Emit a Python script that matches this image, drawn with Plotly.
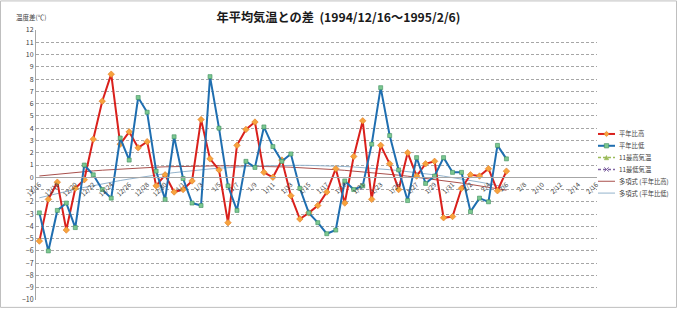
import numpy as np
import pandas as pd
import plotly.graph_objects as go

# ---- data ----
dates = pd.date_range("1994-12-16", "1995-02-06", freq="D")
high_diff = [-5.2, -1.8, -0.4, -4.3, -0.9, -0.2, 3.1, 6.2, 8.4, 2.7, 3.7, 2.4, 2.9, -0.7, 0.2, -1.2,
             -1.0, -0.3, 4.7, 1.5, 0.6, -3.7, 2.6, 3.9, 4.5, 0.4, 0.0, 1.4, -1.5, -3.4, -2.9, -2.3,
             -1.2, 0.7, -2.1, 1.7, 4.6, -1.8, 2.6, 1.1, -1.0, 2.0, 0.1, 1.1, 1.3, -3.3, -3.2,
             -0.9, 0.2, 0.1, 0.7, -1.1, 0.5]
low_diff = [-2.9, -6.0, -2.7, -2.1, -4.1, 1.0, 0.2, -1.0, -1.7, 3.2, 1.4, 6.5, 5.3, 0.5, -1.8, 3.3,
            -0.1, -2.1, -2.3, 8.2, 4.0, -0.7, -2.7, 1.3, 0.8, 4.1, 2.5, 1.3, 1.9, -0.9, -2.9, -3.7,
            -4.6, -4.3, -0.3, -1.0, -0.7, 2.7, 7.3, 3.4, 0.6, -1.9, 1.6, -0.5, 0.1, 1.6, 0.4,
            0.4, -2.8, -1.7, -2.0, 2.6, 1.5]
max11 = [None] * len(dates)
min11 = [None] * len(dates)
series_names = ["平年比高", "平年比低", "11最高気温", "11最低気温", "多項式 (平年比高)", "多項式 (平年比低)"]
title_text = "年平均気温との差  (1994/12/16～1995/2/6)"
y_title = "温度差(℃)"

# polynomial trendlines (order 2), like Excel
idx = np.arange(len(dates))
trend_high = np.polyval(np.polyfit(idx, high_diff, 2), idx)
trend_low = np.polyval(np.polyfit(idx, low_diff, 2), idx)

# ---- styles ----
FONT = "Noto Sans CJK JP"
C_HIGH, C_HIGH_M, C_HIGH_ML = "#D9201C", "#F7A33E", "#E07B20"
C_LOW, C_LOW_M, C_LOW_ML = "#1F6EB0", "#7CC890", "#3E8E5E"
C_MAX11, C_MIN11 = "#9BBB59", "#8064A2"
C_TH, C_TL = "#A9504C", "#93B3CC"

fig = go.Figure()
fig.add_trace(go.Scatter(x=dates, y=trend_high, mode="lines", name=series_names[4],
                         line=dict(color=C_TH, width=1)))
fig.add_trace(go.Scatter(x=dates, y=trend_low, mode="lines", name=series_names[5],
                         line=dict(color=C_TL, width=1)))
fig.add_trace(go.Scatter(x=dates, y=high_diff, mode="lines+markers", name=series_names[0],
                         line=dict(color=C_HIGH, width=2),
                         marker=dict(symbol="diamond", size=5, color=C_HIGH_M,
                                     line=dict(color=C_HIGH_ML, width=0.6))))
fig.add_trace(go.Scatter(x=dates, y=low_diff, mode="lines+markers", name=series_names[1],
                         line=dict(color=C_LOW, width=2),
                         marker=dict(symbol="square", size=4, color=C_LOW_M,
                                     line=dict(color=C_LOW_ML, width=0.6))))
fig.add_trace(go.Scatter(x=dates, y=max11, mode="lines+markers", name=series_names[2],
                         line=dict(color=C_MAX11, width=1.5, dash="dash"),
                         marker=dict(symbol="triangle-up", size=4, color=C_MAX11)))
fig.add_trace(go.Scatter(x=dates, y=min11, mode="lines+markers", name=series_names[3],
                         line=dict(color=C_MIN11, width=1.5, dash="dash"),
                         marker=dict(symbol="x-thin", size=4, color=C_MIN11,
                                     line=dict(color=C_MIN11, width=1))))

L, R, T, B = 36, 80, 30, 8
W, H = 677, 312
pw, ph = W - L - R, H - T - B


def px(xp):
    return (xp - L) / pw


def py(yp):
    return 1 - (yp - T) / ph


fig.update_layout(
    width=W, height=H,
    margin=dict(l=L, r=R, t=T, b=B),
    paper_bgcolor="white", plot_bgcolor="white",
    font=dict(family=FONT, color="#404040"),
    title=dict(text=title_text, x=0.5, xref="container", xanchor="center",
               y=1 - 18 / H, yref="container", yanchor="middle",
               font=dict(size=12.2, family=FONT, color="#1a1a1a", weight="bold")),
    showlegend=False,
    xaxis=dict(type="date",
               range=["1994-12-15 15:00", "1995-02-16 02:00"],
               tick0="1994-12-16", dtick=2 * 86400000, tickformat="%-m/%-d",
               tickangle=-45, tickfont=dict(size=6.5, color="#404040"),
               anchor="free", position=10 / 22,
               showline=True, linecolor="#A6A6A6", linewidth=1,
               showgrid=False, zeroline=False, ticks=""),
    yaxis=dict(range=[-10, 12], dtick=1, tick0=0,
               tickfont=dict(size=7, color="#404040"),
               showgrid=True, gridcolor="#A6A6A6", gridwidth=0.6, griddash="3px,2px",
               showline=True, linecolor="#A6A6A6", linewidth=1,
               zeroline=False, ticks=""),
)

fig.add_annotation(text=y_title, xref="paper", yref="paper",
                   x=px(14), y=py(17), xanchor="left", yanchor="middle",
                   showarrow=False, font=dict(size=6.5, family=FONT, color="#404040"))

# outer chart border
fig.add_shape(type="rect", xref="paper", yref="paper",
              x0=px(0.5), x1=px(W - 0.5), y0=py(H - 0.5), y1=py(0.5),
              line=dict(color="#BFBFBF", width=1), layer="below")

# ---- compact legend (Excel style) ----
leg_x0, leg_x1, leg_text_x = 598, 615, 617
leg_y0, leg_dy = 135.5, 12
legend_items = [
    (series_names[0], C_HIGH, "solid", 2, "diamond", C_HIGH_M, C_HIGH_ML),
    (series_names[1], C_LOW, "solid", 2, "square", C_LOW_M, C_LOW_ML),
    (series_names[2], C_MAX11, "dash", 1.5, "triangle", C_MAX11, C_MAX11),
    (series_names[3], C_MIN11, "dash", 1.5, "x", C_MIN11, C_MIN11),
    (series_names[4], C_TH, "solid", 1, None, None, None),
    (series_names[5], C_TL, "solid", 1, None, None, None),
]
for i, (nm, col, dash, wd, sym, mfill, mline) in enumerate(legend_items):
    yc = leg_y0 + i * leg_dy
    fig.add_shape(type="line", xref="paper", yref="paper",
                  x0=px(leg_x0), x1=px(leg_x1), y0=py(yc), y1=py(yc),
                  line=dict(color=col, width=wd, dash="3px,2px" if dash == "dash" else "solid"))
    cx = (leg_x0 + leg_x1) / 2
    s = 2.2
    if sym == "diamond":
        path = (f"M {px(cx)} {py(yc - s - 0.5)} L {px(cx + s + 0.5)} {py(yc)} "
                f"L {px(cx)} {py(yc + s + 0.5)} L {px(cx - s - 0.5)} {py(yc)} Z")
        fig.add_shape(type="path", xref="paper", yref="paper", path=path,
                      fillcolor=mfill, line=dict(color=mline, width=0.6))
    elif sym == "square":
        fig.add_shape(type="rect", xref="paper", yref="paper",
                      x0=px(cx - s), x1=px(cx + s), y0=py(yc + s), y1=py(yc - s),
                      fillcolor=mfill, line=dict(color=mline, width=0.6))
    elif sym == "triangle":
        path = (f"M {px(cx)} {py(yc - s)} L {px(cx + s)} {py(yc + s)} "
                f"L {px(cx - s)} {py(yc + s)} Z")
        fig.add_shape(type="path", xref="paper", yref="paper", path=path,
                      fillcolor=mfill, line=dict(color=mline, width=0.6))
    elif sym == "x":
        for a, b in [(-1, 1), (1, -1)]:
            fig.add_shape(type="line", xref="paper", yref="paper",
                          x0=px(cx - s), x1=px(cx + s), y0=py(yc + a * s), y1=py(yc + b * s),
                          line=dict(color=mline, width=1))
    fig.add_annotation(text=nm, xref="paper", yref="paper",
                       x=px(leg_text_x), y=py(yc), xanchor="left", yanchor="middle",
                       showarrow=False, font=dict(size=6.3, family=FONT, color="#404040"))

fig.write_html("out.html")
